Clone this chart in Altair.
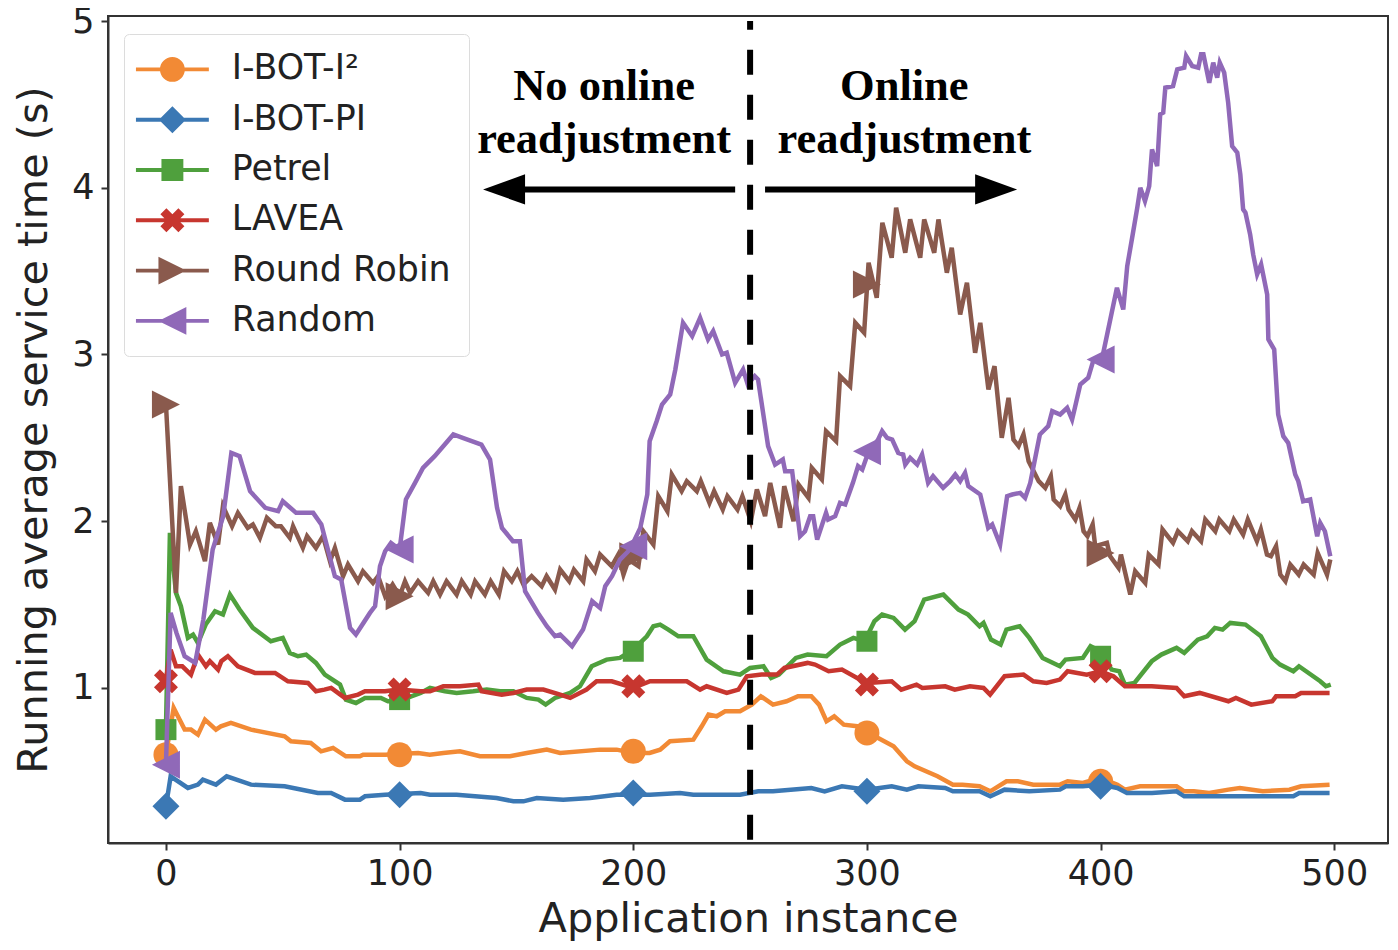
import pandas as pd
import altair as alt

series_names = ['I-BOT-I²', 'I-BOT-PI', 'Petrel', 'LAVEA', 'Round Robin', 'Random']
colors = ['#f28a35', '#3b78b4', '#4fa03d', '#c7362f', '#8a5a4d', '#9069b8']

orange_x = [0, 3.3, 8, 10.7, 13.7, 16.7, 21.4, 23.5, 27.8, 36.4, 50.8, 53.5, 62, 66.4, 71.5, 77, 83, 84.4, 93.8, 107.9, 112.9,
            118.7, 125.8, 134.4, 143, 147.2, 154.4, 163, 168.7, 185.8, 192.9, 200, 207, 211.5, 215.7, 225.7, 229.3, 232.2, 235.7, 239.3, 245.7, 250.7,
            254.6, 259.8, 265.6, 270.5, 276.2, 279.5, 282.7, 286, 290.1, 295.8, 300.8, 311.4, 317.1, 320.4, 330.2, 336.8, 340.9, 348.2, 352.8, 359.7, 364.6,
            371.2, 382.6, 385.9, 392.4, 399.8, 407.2, 410.4, 416.9, 432.5, 435.8, 439.9, 446.5, 454.7, 459.6, 469.4, 480.8, 485.8, 498]
orange_y = [0.6, 0.88, 0.75, 0.75, 0.72, 0.81, 0.75, 0.77, 0.79, 0.75, 0.71, 0.68, 0.67, 0.62, 0.64, 0.59, 0.59, 0.6, 0.6, 0.61, 0.6,
            0.61, 0.62, 0.59, 0.59, 0.59, 0.61, 0.63, 0.61, 0.63, 0.63, 0.61, 0.61, 0.63, 0.68, 0.69, 0.77, 0.84, 0.83, 0.86, 0.86, 0.9,
            0.95, 0.9, 0.92, 0.95, 0.95, 0.9, 0.8, 0.83, 0.78, 0.77, 0.73, 0.65, 0.56, 0.53, 0.47, 0.42, 0.42, 0.41, 0.38, 0.44, 0.44,
            0.42, 0.42, 0.44, 0.43, 0.46, 0.42, 0.39, 0.41, 0.41, 0.38, 0.38, 0.37, 0.39, 0.4, 0.38, 0.39, 0.41, 0.42]

blue_x = [0, 2, 9.4, 13.7, 15.8, 21.4, 26, 36.4, 50.8, 65, 70.7, 76.6, 83, 85.2, 93.8, 109, 113, 124.4, 141.5, 148.7, 153, 158.7, 170,
          181.5, 192.9, 200, 207.2, 220, 225.7, 235.7, 245.7, 253.5, 259.8, 276.2, 281.9, 289.3, 300, 310.6, 317.1, 322, 333.5, 336.8, 348.2,
          352.8, 358.9, 369.5, 382.6, 385.1, 392.4, 399.8, 407.2, 411.3, 422, 432.5, 435.8, 446.5, 457.9, 466.1, 482.5, 485, 498]
blue_y = [0.29, 0.47, 0.4, 0.42, 0.45, 0.42, 0.47, 0.42, 0.41, 0.37, 0.37, 0.33, 0.33, 0.35, 0.36, 0.37, 0.36, 0.36, 0.34, 0.32, 0.32, 0.34, 0.33,
          0.34, 0.36, 0.36, 0.36, 0.37, 0.36, 0.36, 0.36, 0.38, 0.38, 0.4, 0.38, 0.41, 0.39, 0.41, 0.39, 0.41, 0.4, 0.38, 0.38,
          0.35, 0.39, 0.38, 0.39, 0.41, 0.41, 0.42, 0.4, 0.37, 0.37, 0.38, 0.35, 0.35, 0.35, 0.35, 0.35, 0.37, 0.37]

green_x = [0, 1.7, 4.3, 6.4, 9.4, 11.6, 13.7, 17, 21, 24.4, 27.4, 31.5, 37.2, 44.9, 50, 53, 56.5, 60, 64.2, 68, 74.5, 77, 81.3, 85.2, 92, 95, 99.3, 109,
           113, 119.4, 124.4, 131.5, 137.3, 143, 148.7, 154.4, 159.4, 162.5, 166.5, 173, 177.2, 182.2, 188.6, 194.3, 200, 205.8, 208.6, 211.5, 215, 219.3, 225.7, 231.4, 238.6, 245.7,
           250, 255.7, 259, 262.3, 269.6, 274.6, 282.7, 288.5, 294.2, 299, 303.2, 306.5, 311.4, 316.3, 320.4, 324.5, 332.7, 339.2, 343.3, 348.2, 349.9, 353.1, 357.2, 359.7, 365.4, 369.5, 375.2, 382.6, 385, 392.4, 395.7, 399.8,
           404.7, 408, 410.4, 414.5, 421.9, 426, 432.5, 435.8, 441.6, 445.6, 448.9, 452.2, 455.5, 462, 468.6, 473.5, 476.8, 482.5, 484.9, 494, 496.4, 498.5]
green_y = [0.75, 1.93, 1.57, 1.49, 1.3, 1.32, 1.27, 1.38, 1.46, 1.44, 1.56, 1.47, 1.36, 1.28, 1.3, 1.21, 1.19, 1.2, 1.15, 1.08, 1.02, 0.93, 0.91, 0.94, 0.94, 0.92, 0.92, 0.97,
           1.0, 0.98, 0.97, 0.98, 0.99, 0.98, 0.98, 0.94, 0.93, 0.9, 0.94, 0.97, 1.01, 1.13, 1.17, 1.18, 1.23, 1.31, 1.37, 1.38, 1.35, 1.31, 1.31, 1.17, 1.1, 1.08,
           1.12, 1.13, 1.06, 1.08, 1.18, 1.2, 1.19, 1.26, 1.3, 1.28, 1.4, 1.44, 1.42, 1.35, 1.4, 1.53, 1.56, 1.47, 1.44, 1.37, 1.39, 1.29, 1.26, 1.35, 1.37, 1.3, 1.18, 1.13, 1.17, 1.18, 1.25, 1.22,
           1.11, 1.1, 1.02, 1.03, 1.16, 1.2, 1.24, 1.21, 1.29, 1.31, 1.36, 1.35, 1.39, 1.38, 1.31, 1.18, 1.14, 1.1, 1.13, 1.04, 1.01, 1.02]

red_x = [0, 2, 4.3, 7, 10.7, 13.7, 17.1, 18.8, 22.3, 23.7, 26.5, 30.8, 38.1, 46.7, 52.2, 60.8, 64.2, 67.8, 70.7, 76.6, 82.2, 85.2, 93.8, 99.5, 109,
         113, 118.7, 125.8, 133.7, 135.1, 143.7, 148.7, 154.4, 161.5, 168.7, 173, 180, 184.3, 190.8, 200, 207.2, 222.9, 228.6, 231.4, 240, 245, 248.6, 254.9,
         261.5, 264.7, 274.6, 277.8, 283.6, 289.3, 295.8, 300.8, 310.6, 314.7, 321.2, 323.7, 333.5, 337.6, 344.1, 349.9, 352.7, 358.9, 367, 371.2, 376.9, 382.6, 385.9, 394.1, 399.8,
         405.5, 410.4, 421.9, 432.5, 435.8, 442.4, 454.7, 457.9, 464.5, 473.5, 475.1, 483.3, 485.8, 498]
red_y = [1.05, 1.23, 1.13, 1.13, 1.08, 1.2, 1.13, 1.16, 1.11, 1.16, 1.19, 1.13, 1.09, 1.09, 1.04, 1.03, 0.98, 0.99, 1.0, 0.94, 0.96, 0.98, 0.98, 0.99, 0.98,
         0.98, 1.01, 1.01, 1.02, 0.98, 0.96, 0.97, 0.99, 0.99, 0.96, 0.94, 0.99, 1.04, 1.04, 1.0, 1.04, 1.04, 0.99, 1.01, 0.97, 0.99, 1.07, 1.08,
         1.08, 1.12, 1.15, 1.14, 1.1, 1.11, 1.06, 1.03, 1.04, 0.99, 1.02, 1.0, 1.01, 0.99, 1.01, 1.0, 0.96, 1.07, 1.08, 1.04, 1.03, 1.05, 1.1, 1.08, 1.1,
         1.07, 1.01, 1.01, 1.0, 0.95, 0.97, 0.92, 0.94, 0.9, 0.92, 0.95, 0.95, 0.97, 0.97]

brown_x = [0, 4.3, 6.4, 10.3, 12.8, 16.7, 18.8, 22.3, 24.4, 28.3, 30.8, 35, 37.2, 40.2, 43.2, 47, 49.2, 53, 54.4, 58.6, 60.4, 64.2, 67.2, 70.2, 72.3, 75.8, 77.9, 82.2, 84.3, 88.6, 90.8, 93.8, 97, 100, 102.3, 104.5, 107.9, 112.2,
           114.4, 117.3, 120.1, 124.4, 126.6, 130.4, 132.3, 136.5, 139, 142.5, 144.7, 148, 150.4, 153, 156.5, 160.8, 162.9, 166.5, 168.7, 172.6, 174.6, 178.6, 180, 183.6, 185.8, 190.8, 193.6, 195.8, 198, 202.2, 204.3, 208.6, 210.7, 214.6, 216.5, 220.7, 222.9, 227.2, 228.9, 232.6, 234.6, 238.3, 240.3, 244.6, 246.7, 250.3,
           252.9, 256.4, 258.6, 262.8, 264.6, 268.6, 270.7, 275, 276.4, 280.7, 282.5, 286.8, 288.5, 292.8, 295, 298.8, 300.7, 304.2, 306.6, 310.6, 312.5, 316.4, 318.5, 322.8, 324.5, 328.8, 330.6, 334.2, 336.3, 339.9, 342.8, 346.3, 348.5, 352, 354.6, 357.7, 360.6, 362.7, 364.9, 367, 369.2, 373.5,
           376.3, 378.7, 379.9, 382.7, 384.9, 386.3, 389.2, 391, 392.7, 394.4, 396.6, 397.7, 402.7, 404.1, 407.7, 408.7, 412.7, 414.8, 419.1, 420.6, 424.8, 426.5, 431, 433.1, 437.3, 439.1, 443, 444.8, 449.1, 450.8, 455.1, 457, 461, 463, 466.9, 468.6, 471.2, 472.9, 475.1, 476.9, 479.1, 481.2, 484.8, 486.9, 491.2, 492.9, 496.9, 498.3]
brown_y = [2.7, 1.57, 2.21, 1.86, 1.94, 1.76, 1.99, 1.86, 2.09, 1.97, 2.05, 1.96, 1.98, 1.9, 2.02, 1.97, 1.97, 1.9, 1.97, 1.84, 1.91, 1.84, 1.91, 1.76, 1.84, 1.67, 1.74, 1.64, 1.7, 1.63, 1.67, 1.55, 1.62, 1.55, 1.64, 1.57, 1.64, 1.57,
           1.64, 1.56, 1.64, 1.56, 1.64, 1.56, 1.64, 1.56, 1.64, 1.56, 1.7, 1.64, 1.7, 1.62, 1.67, 1.61, 1.67, 1.59, 1.71, 1.64, 1.71, 1.64, 1.77, 1.7, 1.8, 1.73, 1.8, 1.68, 1.77, 1.73, 1.94, 1.86, 2.15, 2.06, 2.28, 2.18, 2.24, 2.18, 2.24, 2.11, 2.18, 2.07, 2.15, 2.07, 2.15, 2.0,
           2.19, 2.03, 2.23, 1.96, 2.21, 2.0, 2.22, 2.14, 2.32, 2.25, 2.54, 2.48, 2.87, 2.81, 3.19, 3.13, 3.55, 3.34, 3.79, 3.58, 3.88, 3.61, 3.81, 3.58, 3.81, 3.61, 3.81, 3.49, 3.64, 3.24, 3.43, 3.01, 3.19, 2.79, 2.93, 2.5, 2.74, 2.49, 2.45, 2.52, 2.36, 2.24,
           2.2, 2.27, 2.13, 2.09, 2.16, 2.07, 2.01, 2.08, 1.94, 1.91, 1.98, 1.85, 1.87, 1.79, 1.72, 1.8, 1.56, 1.7, 1.63, 1.8, 1.74, 1.95, 1.87, 1.94, 1.88, 1.94, 1.88, 2.01, 1.94, 2.01, 1.94, 2.01, 1.92, 2.01, 1.88, 1.95, 1.8, 1.79, 1.85, 1.68, 1.64, 1.74, 1.68, 1.74, 1.68, 1.81, 1.68, 1.77]

purple_x = [0, 2, 4.5, 8, 12.5, 16, 20, 24.5, 28, 31.5, 36, 42.5, 48, 50, 55.7, 63, 66.5, 72.3, 75, 78.8, 81.3, 87.3, 89.5, 91.6, 93.8, 96.3, 100, 102.7, 106.6, 110, 115, 123, 127, 135, 138.7, 141.7, 143.8, 148.5, 151.5, 153.7, 159.2, 163, 166.5, 168.7, 173.8, 178.5, 182.4, 185.8, 188, 190.9, 194.3, 198.6, 203, 206, 207, 210, 212.3, 215.8, 218, 221.3, 225.2, 228.6, 232, 234.2, 238, 240, 243.6, 247, 249, 252, 253.4,
            257.7, 260.7, 264, 265, 268, 271.4, 273.5, 275.7, 277, 278.7, 282.5, 283.4, 286.4, 288.5, 290.7, 294, 296.2, 298, 300, 304.8, 306.5, 308.6, 310.8, 313.4, 315.5, 316.4, 318.5, 321.5, 323.6, 326.2, 328.3, 332.6, 335.6, 337.8, 339.9, 342, 343.4, 348.5, 351.9, 353.6, 357, 360, 362.2, 365.6, 367.7, 369.9, 374, 377.6, 379.3, 382.7, 385.7, 387.8, 389, 391.3, 394.7, 396.8, 400.7,
            402.8, 407, 409.7, 411.4, 413.5, 415.7, 417, 419, 420.8, 422, 424.2, 425.5, 426.8, 427.7, 431, 432.8, 435.8, 436.6, 439.2, 441.8, 443, 444, 446.5, 448.2, 449.9, 451, 452.9, 454.6, 456.3, 458.5, 459.8, 461, 462, 464, 465.3, 467, 468.7, 471.3, 471.8, 474.3, 476, 478.2, 480.3, 483.3, 484.6, 486.7, 489.7, 492.7, 494, 496, 498.3]
purple_y = [0.54, 1.45, 1.33, 1.19, 1.15, 1.41, 1.83, 2.03, 2.41, 2.39, 2.18, 2.08, 2.06, 2.12, 2.05, 2.05, 1.98, 1.67, 1.65, 1.36, 1.32, 1.45, 1.49, 1.73, 1.82, 1.87, 1.83, 2.13, 2.23, 2.32, 2.39, 2.52, 2.5, 2.46, 2.37, 2.08, 1.96, 1.88, 1.88, 1.58, 1.45, 1.37, 1.31, 1.32, 1.25, 1.35, 1.52, 1.48, 1.61, 1.67, 1.77, 1.83, 1.96, 2.16, 2.48, 2.6, 2.7, 2.76, 2.91, 3.19, 3.11, 3.22, 3.09, 3.14, 3.0, 3.01, 2.83, 2.91, 2.82, 2.87, 2.85,
            2.45, 2.34, 2.37, 2.3, 2.3, 1.91, 1.94, 2.03, 2.03, 1.89, 2.05, 2.01, 2.03, 2.11, 2.1, 2.23, 2.33, 2.31, 2.39, 2.49, 2.54, 2.5, 2.49, 2.41, 2.4, 2.34, 2.38, 2.34, 2.4, 2.23, 2.27, 2.2, 2.24, 2.28, 2.24, 2.29, 2.21, 2.16, 1.96, 1.98, 1.86, 2.15, 2.16, 2.17, 2.14, 2.23, 2.52, 2.57, 2.66, 2.64, 2.68, 2.61, 2.68, 2.82, 2.86, 2.96, 2.98,
            3.12, 3.4, 3.27, 3.53, 3.7, 3.88, 4.0, 3.92, 4.01, 4.23, 4.13, 4.44, 4.45, 4.6, 4.61, 4.71, 4.72, 4.79, 4.73, 4.72, 4.8, 4.8, 4.63, 4.75, 4.66, 4.75, 4.69, 4.51, 4.25, 4.21, 4.08, 3.87, 3.85, 3.72, 3.6, 3.48, 3.54, 3.36, 3.09, 3.03, 2.64, 2.51, 2.47, 2.28, 2.24, 2.12, 2.13, 1.91, 1.99, 1.94, 1.79]

marker_x = [0, 100, 200, 300, 400]
orange_marks = [0.6, 0.6, 0.62, 0.73, 0.44]
blue_marks = [0.29, 0.36, 0.37, 0.38, 0.41]
green_marks = [0.75, 0.93, 1.22, 1.28, 1.19]
red_marks = [1.04, 0.99, 1.01, 1.02, 1.1]
brown_marks = [2.7, 1.55, 1.79, 3.42, 1.81]
purple_marks = [0.54, 1.83, 1.85, 2.42, 2.97]

line_x = [orange_x, blue_x, green_x, red_x, brown_x, purple_x]
line_y = [orange_y, blue_y, green_y, red_y, brown_y, purple_y]
mark_y = [orange_marks, blue_marks, green_marks, red_marks, brown_marks, purple_marks]

# marker glyphs, matplotlib proportions
TRI_R = 'M-1,-1L1,0L-1,1Z'
TRI_L = 'M1,-1L1,1L-1,0Z'
CROSS = 'M-0.5,-1L0,-0.5L0.5,-1L1,-0.5L0.5,0L1,0.5L0.5,1L0,0.5L-0.5,1L-1,0.5L-0.5,0L-1,-0.5Z'
shapes = ['circle', 'diamond', 'square', CROSS, TRI_R, TRI_L]
sizes = [625, 729, 441, 576, 784, 784]

# legend glyphs: line through the marker, in units of 15px
BAR = 'M-2.43,-0.13H2.43V0.13H-2.43Z'
legend_shapes = [
    BAR + 'M-0.83,0A0.83,0.83 0 1,1 0.83,0A0.83,0.83 0 1,1 -0.83,0Z',
    BAR + 'M0,-0.9L0.9,0L0,0.9L-0.9,0Z',
    BAR + 'M-0.73,-0.73H0.73V0.73H-0.73Z',
    BAR + 'M-0.4,-0.8L0,-0.4L0.4,-0.8L0.8,-0.4L0.4,0L0.8,0.4L0.4,0.8L0,0.4L-0.4,0.8L-0.8,0.4L-0.4,0L-0.8,-0.4Z',
    BAR + 'M-0.93,-0.93L0.93,0L-0.93,0.93Z',
    BAR + 'M0.93,-0.93L0.93,0.93L-0.93,0Z',
]

x_scale = alt.Scale(domain=[-24.8, 523], nice=False, zero=False)
y_scale = alt.Scale(domain=[0.07, 5.03], nice=False, zero=False)
x_axis = alt.Axis(values=[0, 100, 200, 300, 400, 500], grid=False, title='Application instance', format='d',
                  titleFontSize=41.4, titleFontWeight='normal', titlePadding=7, labelFontSize=35, labelPadding=6,
                  tickSize=7, tickWidth=2, tickColor='#333', domainColor='#333', domainWidth=2,
                  labelColor='#222', titleColor='#222', labelFont='DejaVu Sans', titleFont='DejaVu Sans')
y_axis = alt.Axis(values=[1, 2, 3, 4, 5], grid=False, title='Running average service time (s)', format='d',
                  titleFontSize=41.4, titleFontWeight='normal', titlePadding=16, labelFontSize=35, labelPadding=7,
                  tickSize=7, tickWidth=2, tickColor='#333', domainColor='#333', domainWidth=2,
                  labelColor='#222', titleColor='#222', labelFont='DejaVu Sans', titleFont='DejaVu Sans')

layers = []
for i, name in enumerate(series_names):
    line_df = pd.DataFrame({'x': line_x[i], 'y': line_y[i]})
    line = alt.Chart(line_df).mark_line(color=colors[i], strokeWidth=4.5, clip=True).encode(
        alt.X('x:Q', scale=x_scale, axis=x_axis),
        alt.Y('y:Q', scale=y_scale, axis=y_axis),
        order='x:Q',
    )
    marks_df = pd.DataFrame({'x': marker_x, 'y': mark_y[i]})
    marks = alt.Chart(marks_df).mark_point(filled=True, opacity=1, color=colors[i], shape=shapes[i], size=sizes[i]).encode(
        x='x:Q', y='y:Q')
    layers += [line, marks]

# divider and the two arrows
divider = alt.Chart(pd.DataFrame({'x': [250], 'y': [0.09], 'y2': [5.0]})).mark_rule(
    color='black', strokeWidth=6, strokeDash=[25, 20]).encode(x='x:Q', y='y:Q', y2='y2:Q')

arrows = alt.Chart(pd.DataFrame({'x': [243.6, 256.4], 'x2': [140, 360], 'y': [3.99, 3.99]})).mark_rule(
    color='black', strokeWidth=6).encode(x='x:Q', x2='x2:Q', y='y:Q')
head_l = alt.Chart(pd.DataFrame({'x': [144.7], 'y': [3.99]})).mark_point(
    filled=True, opacity=1, color='black', shape='M1,-0.72L1,0.72L-1,0Z', size=1764).encode(x='x:Q', y='y:Q')
head_r = alt.Chart(pd.DataFrame({'x': [355.3], 'y': [3.99]})).mark_point(
    filled=True, opacity=1, color='black', shape='M-1,-0.72L1,0L-1,0.72Z', size=1764).encode(x='x:Q', y='y:Q')

notes = pd.DataFrame({
    'x': [187.5, 187.5, 316, 316],
    'y': [4.605, 4.285, 4.605, 4.285],
    'label': ['No online', 'readjustment', 'Online', 'readjustment'],
})
note_text = alt.Chart(notes).mark_text(font='Liberation Serif', fontWeight='bold', fontSize=44.5, color='black').encode(
    x='x:Q', y='y:Q', text='label:N')

# empty layer that only carries the legend
legend_layer = alt.Chart(pd.DataFrame({'x': [0], 'y': [1], 'name': [series_names[0]]})).transform_filter('false').mark_point(
    filled=True, opacity=1).encode(
    x='x:Q', y='y:Q',
    color=alt.Color('name:N', scale=alt.Scale(domain=series_names, range=colors), legend=alt.Legend(
        title=None, orient='none', legendX=16, legendY=18, fillColor='white', strokeColor='#dcdcdc', cornerRadius=5,
        padding=18, symbolSize=900, symbolOffset=13, symbolStrokeWidth=0, symbolOpacity=1, labelFontSize=34.8,
        labelFont='DejaVu Sans', labelColor='#222', labelOffset=42, rowPadding=14.3, labelLimit=300)),
    shape=alt.Shape('name:N', scale=alt.Scale(domain=series_names, range=legend_shapes)),
)

chart = alt.layer(*layers, divider, arrows, head_l, head_r, note_text, legend_layer).properties(
    width=1280, height=827,
    padding={'left': 100, 'top': 8, 'right': 2, 'bottom': 100},
    autosize=alt.AutoSizeParams(type='none'),
    background='white',
).configure_view(stroke='#333', strokeWidth=2)

chart.save('out.html', embed_options={'renderer': 'svg', 'actions': False})
